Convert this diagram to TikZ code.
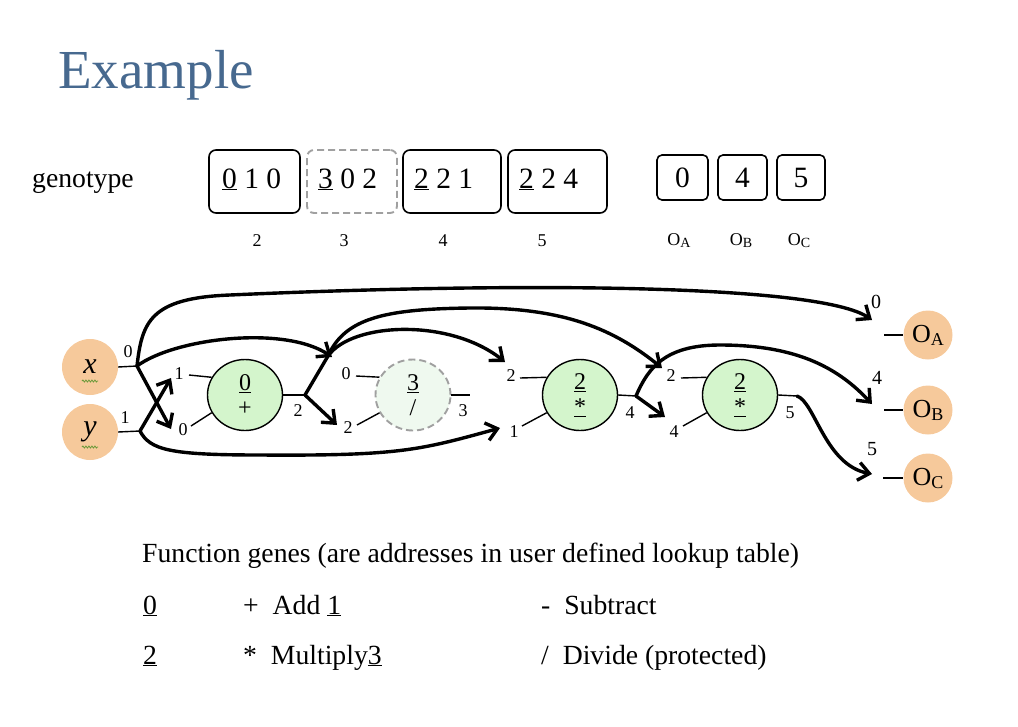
\documentclass[tikz,border=0pt]{standalone}
\usepackage{fontspec}
\setmainfont{Liberation Serif}
\usetikzlibrary{arrows.meta,shapes.geometric,decorations.pathmorphing}
\definecolor{titleblue}{HTML}{47698F}
\definecolor{peach}{HTML}{F6C99B}
\definecolor{nodegreen}{HTML}{D4F5CC}
\definecolor{palegreen}{HTML}{EFF9EF}
\definecolor{dashgray}{HTML}{A0A0A0}
\definecolor{squig}{HTML}{6A9A3A}
\begin{document}
\begin{tikzpicture}[x=1pt,y=-1pt,
  txt/.style={font=\fontsize{27.7}{30}\selectfont, inner sep=0pt, anchor=base west},
  gbox/.style={draw, rounded corners=7pt, line width=1.6pt, minimum height=63pt, inner sep=0pt},
  obox/.style={draw, rounded corners=5pt, line width=1.6pt, minimum height=45pt, inner sep=0pt},
  boxtxt/.style={font=\fontsize{29.5}{30}\selectfont, inner sep=0pt, anchor=base west},
  small/.style={font=\fontsize{18}{20}\selectfont, inner sep=0pt},
  plab/.style={font=\fontsize{18}{18}\selectfont, inner sep=0pt},
  gdash/.style={draw=dashgray, dash pattern=on 7pt off 4pt, line width=1.9pt},
  inode/.style={circle, fill=peach, minimum size=56pt, inner sep=0pt, font=\fontsize{30}{30}\selectfont\itshape},
  onode/.style={circle, fill=peach, minimum size=49pt, inner sep=0pt, font=\fontsize{26}{26}\selectfont},
  fnode/.style={ellipse, draw, line width=1.4pt, fill=nodegreen, minimum width=75pt, minimum height=71pt, inner sep=0pt, align=center, font=\fontsize{24}{27}\selectfont},
  stub/.style={line width=1.4pt},
  conn/.style={line width=3.4pt, line cap=round, -{Straight Barb[length=11pt,width=18pt]}},
  seg/.style={line width=3.4pt, line cap=round}
]
\useasboundingbox (0,0) rectangle (1018,726);

% title
\node[anchor=base west, font=\fontsize{55}{60}\selectfont, text=titleblue, inner sep=0pt] (title) at (58,88) {Example};

% genotype
\node[txt] (geno) at (32,187) {genotype};
\node[gbox, minimum width=91pt] (b1) at (254.5,181.5) {};
\node[gbox, minimum width=90pt, gdash] (b2) at (352,181.5) {};
\node[gbox, minimum width=98pt] (b3) at (452,181.5) {};
\node[gbox, minimum width=99pt] (b4) at (557.5,181.5) {};
\node[boxtxt] (t1) at (222,188) {\underline{0} 1 0};
\node[boxtxt] (t2) at (318,188) {\underline{3} 0 2};
\node[boxtxt] (t3) at (414,188) {\underline{2} 2 1};
\node[boxtxt] (t4) at (519,188) {\underline{2} 2 4};
\node[obox, minimum width=51pt] (ob1) at (682.5,177.5) {\fontsize{29.5}{30}\selectfont 0};
\node[obox, minimum width=49pt] (ob2) at (742.5,177.5) {\fontsize{29.5}{30}\selectfont 4};
\node[obox, minimum width=48pt] (ob3) at (801,177.5) {\fontsize{29.5}{30}\selectfont 5};
\node[small] (l2) at (257,241) {2};
\node[small] (l3) at (344,241) {3};
\node[small] (l4) at (443,241) {4};
\node[small] (l5) at (542,241) {5};
\node[small] (la) at (679,241) {O\raisebox{-2pt}{\fontsize{14}{14}\selectfont A}};
\node[small] (lb) at (741,241) {O\raisebox{-2pt}{\fontsize{14}{14}\selectfont B}};
\node[small] (lc) at (799,241) {O\raisebox{-2pt}{\fontsize{14}{14}\selectfont C}};

% input nodes
\node[inode] (x) at (90,367) {x};
\node[inode] (y) at (90,432) {y};
\draw[squig, line width=0.8pt, decorate, decoration={snake, amplitude=1pt, segment length=3pt}] (82,381) -- (98,381);
\draw[squig, line width=0.8pt, decorate, decoration={snake, amplitude=1pt, segment length=3pt}] (82,447) -- (98,447);

% function nodes
\node[fnode] (n2) at (245,395) {\underline{0}\\[-2pt]+};
\node[fnode, gdash, fill=palegreen] (n3) at (413,395) {\underline{3}\\[-2pt]/};
\node[fnode] (n4) at (580,395) {\underline{2}\\[-2pt]\underline{*}};
\node[fnode] (n5) at (740,395) {\underline{2}\\[-2pt]\underline{*}};

% output nodes
\node[onode] (oa) at (928,335) {O\raisebox{-3pt}{\fontsize{18}{18}\selectfont A}};
\node[onode] (ob) at (928,410) {O\raisebox{-3pt}{\fontsize{18}{18}\selectfont B}};
\node[onode] (oc) at (928,478) {O\raisebox{-3pt}{\fontsize{18}{18}\selectfont C}};

% junction coordinates
\coordinate (xo) at (137,366);
\coordinate (yo) at (140,431);
\coordinate (n2o) at (305,395);
\coordinate (n3o) at (470,395);
\coordinate (n4o) at (636,396);
\coordinate (n5o) at (797,396);
\coordinate (n2k) at (328,356);
% arrow tips
\coordinate (t2a) at (171,378);
\coordinate (t2b) at (171,429);
\coordinate (t3a) at (332,357);
\coordinate (t3b) at (337,425);
\coordinate (t4a) at (505,362);
\coordinate (t4b) at (500,428);
\coordinate (t5a) at (662,368);
\coordinate (t5b) at (665,417);
\coordinate (tA) at (872,320);
\coordinate (tB) at (872,404);
\coordinate (tC) at (872,474);
% stub starts
\coordinate (s2a) at (189,375);
\coordinate (s2b) at (191,426);
\coordinate (s3a) at (356,376);
\coordinate (s3b) at (357,425);
\coordinate (s4a) at (520,378);
\coordinate (s4b) at (522,426);
\coordinate (s5a) at (681,378);
\coordinate (s5b) at (683,426);
\coordinate (sA) at (884,335);
\coordinate (sB) at (884,410);
\coordinate (sC) at (883,478);

% stubs
\draw[stub] (x.east) -- (xo);
\draw[stub] (y.east) -- (yo);
\draw[stub] (s2a) -- (n2.152);
\draw[stub] (s2b) -- (n2.208);
\draw[stub] (n2.east) -- (n2o);
\draw[stub] (s3a) -- (n3.152);
\draw[stub] (s3b) -- (n3.208);
\draw[stub] (n3.east) -- (n3o);
\draw[stub] (s4a) -- (n4.152);
\draw[stub] (s4b) -- (n4.208);
\draw[stub] (n4.east) -- (n4o);
\draw[stub] (s5a) -- (n5.152);
\draw[stub] (s5b) -- (n5.208);
\draw[stub] (n5.east) -- (n5o);
\draw[stub] (sA) -- (oa.west);
\draw[stub] (sB) -- (ob.west);
\draw[stub] (sC) -- (oc.west);

% port labels
\node[plab] (px) at (128,352) {0};
\node[plab] (py) at (125,418) {1};
\node[plab] (p2a) at (179,374) {1};
\node[plab] (p2b) at (183,430) {0};
\node[plab] (p2o) at (298,411) {2};
\node[plab] (p3a) at (346,374) {0};
\node[plab] (p3b) at (348,428) {2};
\node[plab] (p3o) at (463,411) {3};
\node[plab] (p4a) at (511,376) {2};
\node[plab] (p4b) at (514,432) {1};
\node[plab] (p4o) at (630,413) {4};
\node[plab] (p5a) at (671,376) {2};
\node[plab] (p5b) at (674,432) {4};
\node[plab] (p5o) at (790,413) {5};
\node[plab, font=\fontsize{20}{20}\selectfont] (pA) at (876,302) {0};
\node[plab, font=\fontsize{20}{20}\selectfont] (pB) at (877,378) {4};
\node[plab, font=\fontsize{20}{20}\selectfont] (pC) at (872,449) {5};

% connectors
\draw[conn] (xo) .. controls (142,322) and (150,298) .. (230,295) .. controls (520,282) and (820,284) .. (tA);
\draw[conn] (xo) .. controls (175,338) and (285,325) .. (t3a);
\draw[conn] (xo) -- (t2b);
\draw[conn] (yo) -- (t2a);
\draw[conn] (yo) .. controls (150,450) and (170,455) .. (260,455) .. controls (400,456) and (420,450) .. (t4b);
\draw[conn] (n2o) -- (t3b);
\draw[seg] (n2o) -- (n2k);
\draw[conn] (n2k) .. controls (352,322) and (450,318) .. (t4a);
\draw[conn] (n2k) .. controls (345,318) and (385,309) .. (470,308) .. controls (565,307) and (615,330) .. (t5a);
\draw[conn] (n4o) -- (t5b);
\draw[conn] (n4o) .. controls (648,368) and (665,345) .. (720,345) .. controls (800,345) and (840,370) .. (tB);
\draw[conn] (n5o) .. controls (815,402) and (825,465) .. (tC);

% bottom text
\node[txt] (fg) at (142,562) {Function genes (are addresses in user defined lookup table)};
\node[txt] (r1a) at (143,614) {\underline{0}};
\node[txt] (r1b) at (243,614) {+\ \ Add \underline{1}};
\node[txt] (r1c) at (541,614) {-\ \ Subtract};
\node[txt] (r2a) at (143,664) {\underline{2}};
\node[txt] (r2b) at (243,664) {*\ \ Multiply\underline{3}};
\node[txt] (r2c) at (541,664) {/\ \ Divide (protected)};
\end{tikzpicture}
\end{document}
